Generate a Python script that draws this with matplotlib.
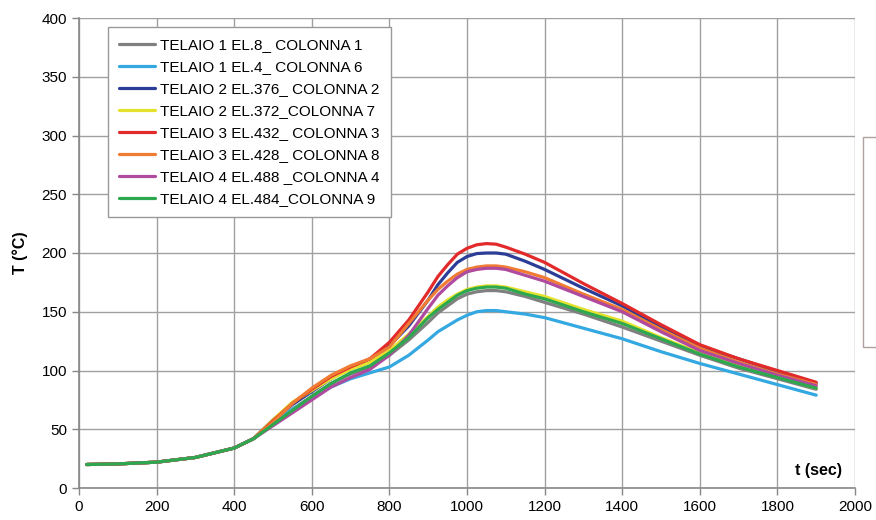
import matplotlib
matplotlib.use("Agg")
import matplotlib.pyplot as plt
from matplotlib.patches import Rectangle

plt.rcParams['font.family'] = ['Liberation Sans', 'DejaVu Sans']

t = [20, 100, 200, 300, 400, 450, 500, 550, 600, 650, 700, 750, 800, 850, 900,
     925, 950, 975, 1000, 1025, 1050, 1075, 1100, 1150, 1200, 1300, 1400, 1500,
     1600, 1700, 1800, 1900]

early = [20, 20.5, 22, 26, 34, 42]

telaio1_el8 = early + [55, 67, 78, 89, 97, 103, 113, 126, 141, 149, 155, 161, 165, 167, 168, 168, 167, 163, 158, 148, 137, 125, 113, 102, 93, 84]
telaio1_el4 = early + [55, 67, 77, 86, 93, 98, 103, 113, 126, 133, 138, 143, 147, 150, 151, 151, 150, 148, 145, 136, 127, 116, 106, 97, 88, 79]
telaio2_el376 = early + [58, 71, 82, 93, 102, 110, 121, 138, 160, 173, 183, 192, 197, 199.5, 200, 200, 199, 193, 186, 170, 155, 137, 120, 110, 99, 89]
telaio2_el372 = early + [58, 73, 83, 93, 101, 107, 117, 131, 146, 154, 160, 165, 169, 171, 172, 172, 171, 167, 163, 152, 142, 128, 115, 104, 95, 85]
telaio3_el432 = early + [57, 72, 84, 95, 103, 110, 124, 143, 167, 180, 190, 199, 204, 207, 208, 207.5, 205, 199, 192, 174, 157, 139, 122, 110, 100, 90]
telaio3_el428 = early + [56, 72, 85, 96, 104, 110, 120, 140, 160, 169, 176, 182, 186, 188, 189, 189, 188, 184, 179, 165, 152, 135, 119, 107, 97, 88]
telaio4_el488 = early + [53, 64, 75, 86, 94, 101, 113, 130, 153, 164, 172, 179, 184, 186, 187, 187, 186, 181, 176, 163, 150, 133, 117, 106, 96, 87]
telaio4_el484 = early + [54, 66, 78, 89, 98, 104, 115, 128, 145, 152, 158, 164, 168, 170, 171, 171, 170, 165, 161, 150, 140, 127, 114, 103, 94, 85]

labels = ["TELAIO 1 EL.8_ COLONNA 1", "TELAIO 1 EL.4_ COLONNA 6",
          "TELAIO 2 EL.376_ COLONNA 2", "TELAIO 2 EL.372_COLONNA 7",
          "TELAIO 3 EL.432_ COLONNA 3", "TELAIO 3 EL.428_ COLONNA 8",
          "TELAIO 4 EL.488 _COLONNA 4", "TELAIO 4 EL.484_COLONNA 9"]
series = [telaio1_el8, telaio1_el4, telaio2_el376, telaio2_el372,
          telaio3_el432, telaio3_el428, telaio4_el488, telaio4_el484]
colors = ["#808080", "#34a8e0", "#2b3d96", "#e4e22c",
          "#e22a2a", "#f07b32", "#b04a9e", "#2ea84f"]

x_ticks = list(range(0, 2001, 200))
y_ticks = list(range(0, 401, 50))

fig = plt.figure(figsize=(8.76, 5.2), dpi=100)
ax = fig.add_axes([79/876, 32/520, 776/876, 470/520])

for ys, c, lab in zip(series, colors, labels):
    ax.plot(t, ys, color=c, lw=2.3, label=lab, solid_capstyle='round',
            solid_joinstyle='round')

ax.set_xlim(0, 2000)
ax.set_ylim(0, 400)
ax.set_xticks(x_ticks)
ax.set_yticks(y_ticks)
ax.grid(True, color="#a0a0a0", lw=1.0)
ax.set_axisbelow(True)
for s in ['top', 'right']:
    ax.spines[s].set_visible(False)
for s in ['left', 'bottom']:
    ax.spines[s].set_color('#888888')
    ax.spines[s].set_linewidth(1.2)
ax.tick_params(axis='both', colors='#888888', length=5, width=1.0, labelsize=11,
               labelcolor='black')

ax.set_ylabel("T (°C)", fontsize=11.5, fontweight='bold', labelpad=10)
ax.text(0.983, 0.028, "t (sec)", transform=ax.transAxes, ha='right', va='baseline',
        fontsize=11.5, fontweight='bold')

leg = ax.legend(loc='upper left', bbox_to_anchor=(0.037, 0.981), fontsize=11,
                frameon=True, fancybox=False, edgecolor='#999999', framealpha=1,
                handlelength=2.35, handletextpad=0.3, labelspacing=0.52,
                borderpad=0.75, borderaxespad=0)
leg.get_frame().set_linewidth(1.0)

fig.patches.append(Rectangle((863/876, (520-347)/520), 0.05, 210/520,
                             transform=fig.transFigure, fill=False,
                             edgecolor='#b0a0a0', lw=1.0))

fig.savefig("out.png", dpi=100)
